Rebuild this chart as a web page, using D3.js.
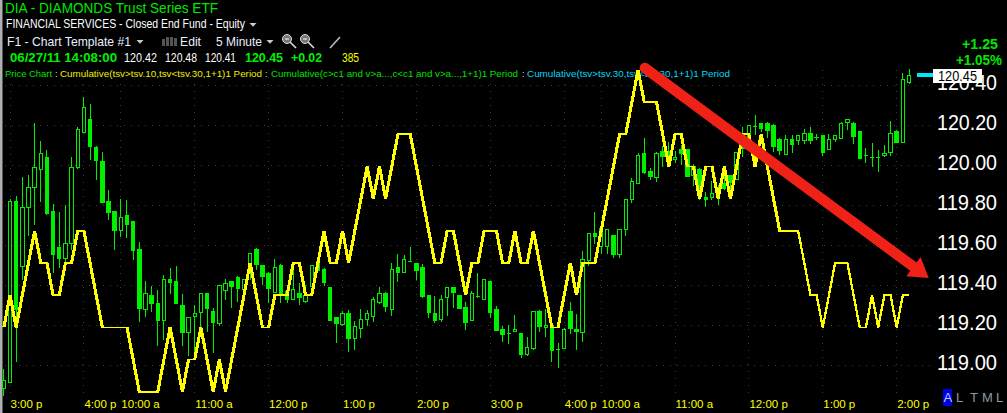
<!DOCTYPE html>
<html><head><meta charset="utf-8">
<script src="https://cdn.jsdelivr.net/npm/d3@7/dist/d3.min.js"></script>
<style>html,body{margin:0;padding:0;background:#000;overflow:hidden}svg{display:block}text{font-family:"Liberation Sans",Arial,sans-serif}</style>
</head><body><svg id="c" width="1007" height="413"></svg>
<script>
// first bar sits one step left of the 3:00 p tick
const firstBar = -1;
const opens = [118.885,118.915,119.82,119.495,119.79,119.89,119.98,120.04,119.77,119.59,119.535,119.61,119.99,120.165,120.23,120.09,120.02,119.82,119.77,119.675,119.75,119.72,119.58,119.28,119.35,119.31,119.225,119.43,119.42,119.30,119.165,119.245,119.265,119.36,119.27,119.21,119.375,119.42,119.44,119.38,119.465,119.58,119.50,119.46,119.365,119.50,119.37,119.33,119.36,119.32,119.395,119.52,119.48,119.39,119.24,119.205,119.26,119.135,119.185,119.23,119.245,119.315,119.36,119.28,119.49,119.465,119.52,119.51,119.49,119.35,119.26,119.23,119.34,119.39,119.35,119.29,119.225,119.345,119.33,119.42,119.28,119.18,119.16,119.17,119.16,119.055,119.085,119.27,119.19,119.20,119.08,119.085,119.27,119.18,119.165,119.525,119.66,119.595,119.595,119.65,119.555,119.68,119.83,119.91,120.06,119.97,119.94,120.07,120.07,120.03,120.08,120.08,119.95,119.98,119.84,119.84,119.885,119.91,119.95,119.93,120.155,120.125,120.195,120.21,120.21,120.20,120.13,120.055,120.13,120.125,120.125,120.16,120.14,120.15,120.08,120.13,120.135,120.215,120.21,120.17,120.05,120.04,120.04,120.05,120.065,120.17,120.115,120.415];
const highs = [118.98,119.83,119.845,119.94,119.95,120.21,120.12,120.075,119.805,119.765,119.80,120.04,120.19,120.34,120.305,120.095,120.065,119.875,119.77,119.83,119.825,119.72,119.615,119.42,119.395,119.375,119.45,119.485,119.495,119.355,119.24,119.30,119.36,119.36,119.285,119.40,119.43,119.42,119.445,119.43,119.56,119.585,119.50,119.465,119.53,119.505,119.40,119.475,119.41,119.40,119.50,119.52,119.485,119.39,119.24,119.27,119.275,119.22,119.28,119.275,119.34,119.39,119.365,119.51,119.555,119.55,119.59,119.51,119.505,119.35,119.345,119.35,119.39,119.39,119.35,119.315,119.37,119.46,119.43,119.42,119.295,119.195,119.20,119.25,119.16,119.14,119.27,119.275,119.28,119.20,119.11,119.185,119.315,119.255,119.57,119.66,119.765,119.71,119.68,119.65,119.68,119.83,119.935,120.06,120.135,119.985,120.065,120.095,120.115,120.07,120.10,120.08,120.005,119.985,119.865,119.92,119.90,119.95,119.95,120.065,120.19,120.20,120.25,120.21,120.215,120.205,120.135,120.15,120.15,120.15,120.18,120.19,120.155,120.15,120.155,120.15,120.215,120.23,120.215,120.17,120.085,120.11,120.075,120.10,120.22,120.175,120.46,120.48];
const lows = [118.845,118.915,119.015,119.425,119.645,119.70,119.815,119.75,119.46,119.485,119.515,119.575,119.98,120.165,120.025,119.925,119.815,119.725,119.575,119.64,119.635,119.525,119.215,119.24,119.265,119.095,119.125,119.355,119.31,119.095,119.045,119.035,119.19,119.165,119.06,119.195,119.325,119.285,119.315,119.31,119.425,119.475,119.40,119.31,119.365,119.31,119.31,119.33,119.30,119.31,119.395,119.465,119.395,119.225,119.11,119.195,119.065,119.075,119.135,119.195,119.215,119.305,119.265,119.245,119.415,119.465,119.52,119.425,119.335,119.235,119.21,119.215,119.245,119.285,119.285,119.175,119.225,119.335,119.33,119.235,119.175,119.115,119.105,119.17,119.035,119.045,119.075,119.165,119.14,119.015,118.985,119.085,119.155,119.075,119.115,119.495,119.605,119.555,119.555,119.535,119.535,119.645,119.81,119.91,119.955,119.925,119.915,119.99,119.99,120.01,120.00,119.945,119.895,119.825,119.79,119.825,119.80,119.875,119.865,119.93,120.04,120.125,120.15,120.165,120.135,120.065,120.05,120.055,120.06,120.10,120.105,120.105,120.125,120.045,120.08,120.115,120.135,120.175,120.105,120.03,120.01,119.99,119.965,120.04,120.045,120.115,120.115,120.405];
const closes = [118.925,119.82,119.28,119.79,119.89,119.99,120.06,119.76,119.555,119.535,119.61,119.99,120.18,120.29,120.095,120.025,119.815,119.765,119.675,119.74,119.705,119.575,119.285,119.36,119.31,119.225,119.43,119.415,119.31,119.165,119.24,119.26,119.36,119.285,119.215,119.40,119.41,119.395,119.385,119.43,119.56,119.505,119.445,119.385,119.49,119.355,119.33,119.38,119.34,119.35,119.50,119.475,119.415,119.225,119.21,119.26,119.135,119.195,119.23,119.26,119.33,119.36,119.295,119.48,119.465,119.53,119.52,119.475,119.345,119.265,119.225,119.33,119.39,119.365,119.285,119.215,119.36,119.345,119.43,119.265,119.175,119.155,119.16,119.18,119.055,119.09,119.27,119.195,119.20,119.075,119.08,119.18,119.185,119.17,119.53,119.66,119.645,119.685,119.68,119.555,119.68,119.83,119.92,120.05,119.965,119.945,120.06,120.045,120.05,120.04,120.06,119.945,119.995,119.88,119.83,119.86,119.85,119.885,119.915,120.065,120.085,120.20,120.195,120.185,120.175,120.095,120.075,120.13,120.105,120.15,120.16,120.125,120.14,120.065,120.13,120.15,120.21,120.23,120.145,120.035,120.05,120.04,120.04,120.06,120.16,120.115,120.43,120.45];
const cumulative = [2,3,2,3,4,5,4,4,3,3,4,4,5,5,4,3,2,2,2,2,2,1,0,0,0,0,1,2,1,0,1,1,2,1,0,1,0,1,2,3,4,3,2,2,3,3,3,4,4,3,3,4,5,4,4,5,4,5,6,7,6,7,6,7,8,8,8,7,6,5,4,4,5,5,4,3,4,4,5,5,5,4,4,5,4,4,5,4,3,2,2,3,4,3,4,4,4,5,6,7,8,8,9,10,9,9,9,8,7,8,8,7,7,6,7,7,6,7,6,7,8,8,7,8,7,6,5,5,5,5,4,3,3,2,3,4,4,4,3,2,2,3,2,3,3,2,3,3];
const priceTicks = [119,119.2,119.4,119.6,119.8,120,120.2,120.4];
const timeTickBars = [0,12,18,30,42,54,66,78,90,96,108,120,132,144];
const timeTickLabels = ["3:00 p","4:00 p","10:00 a","11:00 a","12:00 p","1:00 p","2:00 p","3:00 p","4:00 p","10:00 a","11:00 a","12:00 p","1:00 p","2:00 p"];
const lastPrice = 120.45;
const trendFrom = [103.1,120.485];
const trendTo = [149.2,119.435];

const GREEN="#00ee00", YEL="#ffff00";
const svg=d3.select("#c");
svg.append("rect").attr("width",1007).attr("height",413).attr("fill","#000");
const x=d3.scaleLinear().domain([0,146]).range([10,909]);
const y=d3.scaleLinear().domain([119,120.4]).range([365,85]);
const yCum=d3.scaleLinear().domain([0,10]).range([391.7,70]);

// left border
svg.append("rect").attr("x",0).attr("y",0).attr("width",2.5).attr("height",413).attr("fill","#b0b0b0");

// grid
const grid=svg.append("g").attr("stroke","#3c3c3c").attr("stroke-width",1).attr("stroke-dasharray","1 6").attr("shape-rendering","crispEdges");
grid.selectAll(".h").data(priceTicks).join("line").attr("x1",5).attr("x2",932).attr("y1",d=>y(d)).attr("y2",d=>y(d));
grid.selectAll(".v").data(timeTickBars).join("line").attr("x1",d=>x(d)).attr("x2",d=>x(d)).attr("y1",y(120.475)).attr("y2",396);

// axes
const yAxis=d3.axisRight(y).tickValues(priceTicks).tickFormat(d3.format(".2f")).tickSize(0).tickPadding(0);
const gy=svg.append("g").attr("transform","translate(937,0)").call(yAxis);
gy.select(".domain").remove();
gy.selectAll("text").attr("fill","#fff").attr("font-size",22).attr("dy",4.5).attr("textLength",60).attr("lengthAdjust","spacingAndGlyphs").attr("font-family","Liberation Sans");

const xAxis=d3.axisBottom(x).tickValues(timeTickBars).tickFormat((d,i)=>timeTickLabels[i]).tickSize(0).tickPadding(0);
const gx=svg.append("g").attr("transform","translate(0,398)").call(xAxis);
gx.select(".domain").remove();
gx.selectAll("text").attr("fill",YEL).attr("font-size",11.5).attr("text-anchor","start").attr("dy",10).attr("font-family","Liberation Sans");

// candles
const bars=opens.map((o,i)=>({i:i+firstBar,o,h:highs[i],l:lows[i],c:closes[i]}));
const gc=svg.append("g").attr("shape-rendering","crispEdges");
const W=3.4;
gc.selectAll(".w").data(bars).join("line").attr("x1",d=>x(d.i)).attr("x2",d=>x(d.i)).attr("y1",d=>y(d.h)).attr("y2",d=>y(d.l)).attr("stroke",GREEN).attr("stroke-width",1);
gc.selectAll(".b").data(bars).join("rect")
 .attr("x",d=>x(d.i)-W/2).attr("width",W)
 .attr("y",d=>y(Math.max(d.o,d.c)))
 .attr("height",d=>Math.max(Math.abs(y(d.o)-y(d.c)),0.6))
 .attr("fill",d=>d.c>d.o?"#000":"#00f000")
 .attr("stroke",GREEN).attr("stroke-width",1);

// legend row and header
function label(t,px,base,size,col,o={}){
 const e=svg.append("text").attr("x",px).attr("y",base).attr("font-size",size).attr("fill",col).attr("font-weight",o.b?"bold":"normal").text(t);
 if(o.len)e.attr("textLength",o.len).attr("lengthAdjust","spacingAndGlyphs");
 return e;
}
label("DIA  -  DIAMONDS Trust Series ETF",5,13,14,"#00e800",{len:213});
label("FINANCIAL SERVICES - Closed End Fund - Equity",6,28,12.5,"#fff",{len:239});
label("F1 - Chart Template #1",7,46,13,"#e8eeff",{len:124});
label("Edit",180,46,13,"#e8eeff",{len:21});
label("5 Minute",216,46,13,"#e8eeff",{len:46});
label("06/27/11 14:08:00",10,62,13,"#00f000",{b:1,len:107});
label("120.42",124,62,13,"#fff",{len:33});
label("120.48",165,62,13,"#fff",{len:32});
label("120.41",205,62,13,"#fff",{len:31});
label("120.45",245,62,13,"#00f000",{b:1,len:38});
label("+0.02",291,62,13,"#00f000",{b:1,len:31});
label("385",342,62,13,YEL,{len:17});
label("Price Chart",5,77,9.5,"#00e000",{len:47});
label(":",55,77,9.5,"#ddd");
label("Cumulative(tsv>tsv.10,tsv<tsv.30,1+1)1 Period",60,77,9.5,"#eeee00",{len:202});
label(":",265,77,9.5,"#ddd");
label("Cumulative(c>c1 and v>a...,c<c1 and v>a...,1+1)1 Period",271,77,9.5,"#00e000",{len:247});
label(":",522,77,9.5,"#ddd");
label("Cumulative(tsv>tsv.30,tsv<tsv.30,1+1)1 Period",527,77,9.5,"#00d8f8",{len:203});

// header glyphs
function tri(cx,cy,w,col){svg.append("path").attr("d",`M${cx-w/2},${cy}h${w}l${-w/2},${w*0.55}z`).attr("fill",col);}
tri(253,23,7,"#ccc");tri(140,40,7,"#ccc");tri(270,40,7,"#ccc");
[[162,7],[166,9],[170,9],[174,8]].forEach(([a,h])=>svg.append("rect").attr("x",a).attr("y",46-h).attr("width",3).attr("height",h).attr("fill","#555"));
[[287,39],[305,39]].forEach(([a,b],k)=>{
 svg.append("circle").attr("cx",a).attr("cy",b).attr("r",4.5).attr("fill","#777").attr("stroke","#ddd");
 svg.append("line").attr("x1",a+3).attr("y1",b+3).attr("x2",a+9).attr("y2",b+9).attr("stroke","#ddd").attr("stroke-width",1.6);
 svg.append("line").attr("x1",a-2).attr("y1",b).attr("x2",a+2).attr("y2",b).attr("stroke","#fff");
});
svg.append("line").attr("x1",330).attr("y1",48).attr("x2",340).attr("y2",37).attr("stroke","#bbb").attr("stroke-width",1.6);

// yellow indicator: thin on flats, wide on the steep runs; heavier through the main run, lighter on the last bars
const line=d3.line().x(d=>x(d.i)).y(d=>yCum(d.v));
const cumPts=cumulative.map((v,i)=>({i:i+firstBar,v}));
const heavyEnd=128;
[[cumPts.filter(d=>d.i<=heavyEnd),0.7],[cumPts.filter(d=>d.i>=heavyEnd),0.3]].forEach(([pts,dx])=>
 [-dx,dx].forEach(o=>svg.append("path").attr("d",line(pts)).attr("transform",`translate(${o},0)`).attr("fill","none").attr("stroke",YEL).attr("stroke-width",1.7).attr("stroke-linejoin","miter").attr("shape-rendering","crispEdges")));

// last-price flag
svg.append("rect").attr("x",917).attr("y",y(lastPrice)-2).attr("width",16).attr("height",4).attr("fill","#00e8f8");
svg.append("rect").attr("x",933).attr("y",y(lastPrice)-6).attr("width",49).attr("height",14).attr("fill","#fff");
label(String(lastPrice.toFixed(2)),938,y(lastPrice)+6,14.5,"#000",{len:39});
label("+1.25",962,49,14.5,"#00e800",{b:1,len:36});
label("+1.05%",956,65,14.5,"#00e800",{b:1,len:46});

// ALTML
svg.append("rect").attr("x",943).attr("y",389).attr("width",9).attr("height",17).attr("fill","#0000e8");
label("A",943.5,402,13,"#b8c8ff");
[["L",956],["T",970],["M",982],["L",996]].forEach(([t,p])=>label(t,p,402,13,"#8e9aa0"));

// red trend arrow
const ax=x(trendFrom[0]),ay=y(trendFrom[1]),bx=x(trendTo[0]),by=y(trendTo[1]);
const ang=Math.atan2(by-ay,bx-ax),ux=Math.cos(ang),uy=Math.sin(ang);
const sx=bx-ux*15,sy=by-uy*15;
svg.append("line").attr("x1",ax).attr("y1",ay).attr("x2",sx).attr("y2",sy).attr("stroke","#f02218").attr("stroke-width",10.5).attr("stroke-linecap","round");
svg.append("path").attr("d",d3.line()([[bx,by],[bx-ux*19+uy*12,by-uy*19-ux*12],[bx-ux*19-uy*12,by-uy*19+ux*12]])+"Z").attr("fill","#f02218");
</script></body></html>
